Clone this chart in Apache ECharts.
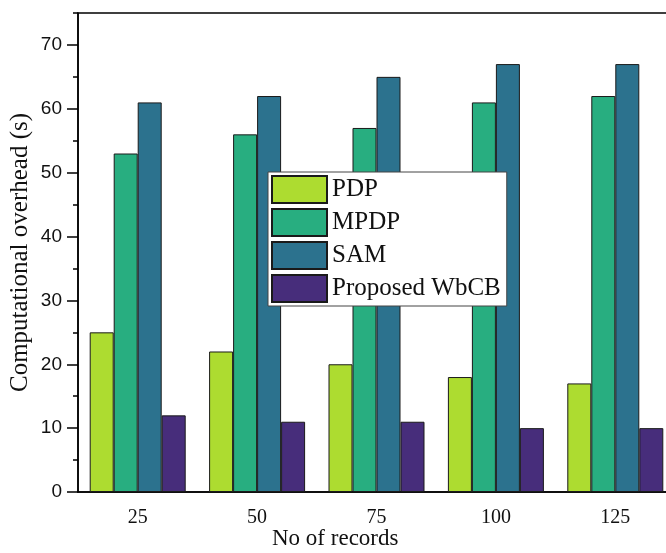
<!DOCTYPE html>
<html>
<head>
<meta charset="utf-8">
<script src="https://cdn.jsdelivr.net/npm/echarts@6/dist/echarts.min.js"></script>
<style>html,body{margin:0;padding:0;background:#fff;}#c{width:666px;height:553px;}</style>
</head>
<body>
<div id="c"></div>
<script>
var categories = ['25', '50', '75', '100', '125'];
var pdp = [25, 22, 20, 18, 17];
var mpdp = [53, 56, 57, 61, 62];
var sam = [61, 62, 65, 67, 67];
var wbcb = [12, 11, 11, 10, 10];
var yTicks = [0, 10, 20, 30, 40, 50, 60, 70];
var seriesNames = ['PDP', 'MPDP', 'SAM', 'Proposed WbCB'];
var colors = ['#addc30', '#28ae80', '#2c728e', '#472d7b'];

var serif = '"Liberation Serif", "Times New Roman", serif';
var sans = '"Liberation Sans", Arial, sans-serif';

var chart = echarts.init(document.getElementById('c'), null, {renderer: 'canvas'});
var dataSets = [pdp, mpdp, sam, wbcb];
var series = dataSets.map(function (d, i) {
  return {
    name: seriesNames[i],
    type: 'bar',
    data: d,
    barWidth: 24,
    barGap: '0%',
    itemStyle: {color: colors[i], borderColor: '#1a1a1a', borderWidth: 1},
    emphasis: {disabled: true}
  };
});

chart.setOption({
  animation: false,
  backgroundColor: '#fff',
  grid: {left: 78, top: 13, width: 597, height: 479, containLabel: false, outerBoundsMode: 'none',
         show: true, borderColor: '#000', borderWidth: 1.5, backgroundColor: 'transparent'},
  legend: {
    orient: 'vertical',
    left: 268, top: 172,
    itemWidth: 55, itemHeight: 27, itemGap: 4,
    padding: [3, 6, 3, 3],
    backgroundColor: '#fff',
    borderColor: '#444', borderWidth: 1,
    icon: 'rect',
    textStyle: {fontFamily: serif, fontSize: 25, color: '#111'},
    data: seriesNames
  },
  xAxis: [{
    type: 'category', data: categories, position: 'bottom',
    axisLine: {lineStyle: {color: '#000', width: 1.5}},
    axisTick: {alignWithLabel: true, length: 8, lineStyle: {color: '#000', width: 1.5}},
    axisLabel: {fontFamily: serif, fontSize: 20, color: '#111', margin: 16}
  }, {
    type: 'category', data: categories, position: 'bottom', gridIndex: 0,
    axisLine: {show: false},
    axisTick: {alignWithLabel: false, length: 5, lineStyle: {color: '#000', width: 1.5}},
    axisLabel: {show: false}
  }],
  yAxis: [{
    type: 'value', min: 0, max: 75, interval: 5,
    axisLine: {show: true, lineStyle: {color: '#000', width: 1.5}},
    axisTick: {show: true, length: 5, lineStyle: {color: '#000', width: 1.5}},
    axisLabel: {show: false},
    splitLine: {show: false}
  }, {
    type: 'value', min: 0, max: 75, interval: 10, position: 'left',
    axisLine: {show: false},
    axisTick: {show: true, length: 11, customValues: yTicks, lineStyle: {color: '#000', width: 1.5}},
    axisLabel: {customValues: yTicks, fontFamily: sans, fontSize: 19, color: '#111', margin: 16},
    splitLine: {show: false},
    name: 'Computational overhead (s)',
    nameLocation: 'middle', nameGap: 45, nameMoveOverlap: false,
    nameTextStyle: {fontFamily: serif, fontSize: 25, color: '#111'}
  }],
  graphic: [{
    type: 'text', left: 272, top: 527,
    style: {text: 'No of records', font: '23px ' + serif, fill: '#111'}
  }],
  series: series
});
</script>
</body>
</html>
